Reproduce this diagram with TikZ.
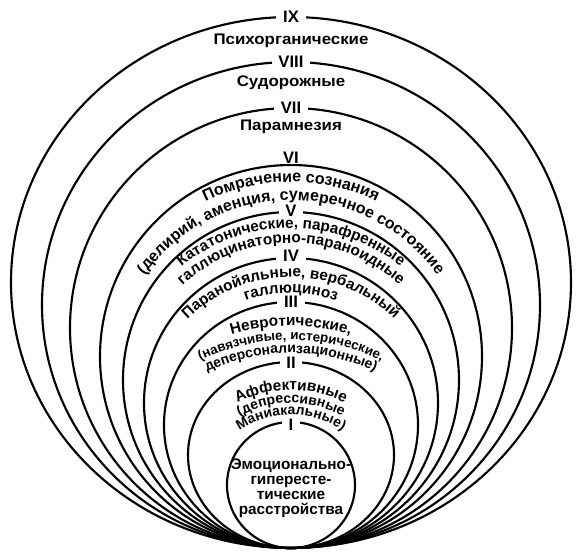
\documentclass[tikz,border=0pt]{standalone}
\usepackage{fontspec}
\setmainfont{Liberation Sans}
\newfontfamily\widesans{Liberation Sans}[FakeStretch=1.1]
\usetikzlibrary{decorations.text}
\newcommand\lblfont{\fontsize{11.5}{11.3}\selectfont\bfseries}
\newcommand\bigfont{\fontsize{12}{12}\selectfont\bfseries}
\newcommand\widefont{\widesans\fontsize{11.5}{12}\selectfont\bfseries}
\newcommand\smlfont{\fontsize{10.5}{11}\selectfont\bfseries}
\newcommand\tinyfont{\fontsize{10}{11}\selectfont\bfseries}
\newcommand\numfont{\fontsize{12.5}{13}\selectfont\bfseries}
% one line of text on an arc: centre height, radius, text
\newcommand\arcline[3]{\path[arctext={#3}] (0,#1) ++(170:#2) arc[start angle=170,end angle=10,radius=#2];}
\begin{document}
\begin{tikzpicture}[x=0.75pt,y=0.75pt,
  ring/.style={line width=1.6pt},
  numeral/.style={fill=white,inner xsep=5pt,inner ysep=0pt,font=\numfont},
  flat/.style={font=\widefont},
  arctext/.style={decorate,decoration={text along path,text align=center,text={#1}}}]
\useasboundingbox (-291,-6) rectangle (295,548);
\foreach \ry/\rx in {63/64,93/103,123/127,145/147,168/168,191.5/191,220/221,243/249,265.5/280}
  \draw[ring] (0,\ry) ellipse [x radius=\rx, y radius=\ry];
\node[numeral] (nIX) at (0,531) {IX};
\node[numeral] (nVIII) at (0,486) {VIII};
\node[numeral] (nVII) at (0,440) {VII};
\node[numeral] (nVI) at (0,390) {VI};
\node[numeral] (nV) at (0,337) {V};
\node[numeral] (nIV) at (0,292) {IV};
\node[numeral] (nIII) at (0,246) {III};
\node[numeral] (nII) at (0,185) {II};
\node[numeral] (nI) at (0,123) {I};
\node[flat] (psych) at (0,507) {Психорганические};
\node[flat] (sudor) at (0,465) {Судорожные};
\node[flat] (param) at (0,421) {Парамнезия};
\arcline{168}{198}{|\bigfont|Помрачение сознания}
\arcline{168}{180}{|\bigfont|(делирий, аменция, сумеречное состояние}
\arcline{145}{175}{|\lblfont|Кататонические, парафренные}
\arcline{145}{160}{|\lblfont|галлюцинаторно-параноидные}
\arcline{123}{148}{|\lblfont|Паранойяльные, вербальный}
\arcline{123}{132}{|\lblfont|галлюциноз}
\arcline{0}{222}{|\lblfont|Невротические,}
\arcline{0}{208}{|\tinyfont|(навязчивые, истерические,}
\arcline{0}{195}{|\smlfont|деперсонализационные)}
\arcline{40}{118}{|\lblfont|Аффективные}
\arcline{40}{105}{|\smlfont|(депрессивные}
\arcline{40}{93}{|\smlfont|Маниакальные)}
\node[font=\lblfont,align=center] (emot) at (0,60) {Эмоционально-\\гипересте-\\тические\\расстройства};
\end{tikzpicture}
\end{document}
